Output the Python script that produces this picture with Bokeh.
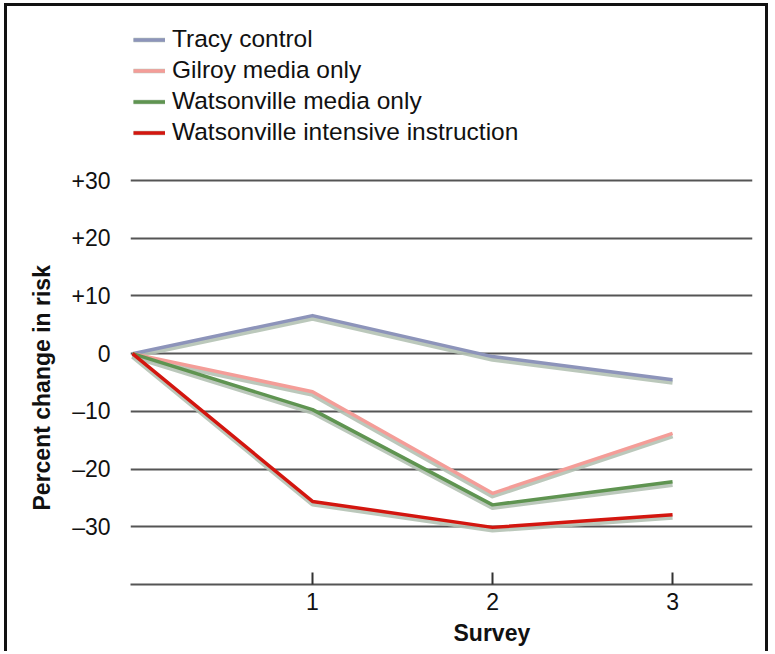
from bokeh.plotting import figure
from bokeh.models import (Range1d, FixedTicker, Legend, LegendItem, Title,
                          ColumnDataSource)
from bokeh.transform import dodge
from bokeh.embed import file_html
from bokeh.resources import INLINE

# ---- data ----
surveys = [0, 1, 2, 3]
tracy_control = [0, 6.6, -0.5, -4.5]
gilroy_media = [0, -6.6, -24.2, -13.8]
watsonville_media = [0, -9.7, -26.2, -22.2]
watsonville_intensive = [0, -25.6, -30.1, -27.9]

series_names = ["Tracy control", "Gilroy media only",
                "Watsonville media only", "Watsonville intensive instruction"]
series_values = [tracy_control, gilroy_media, watsonville_media, watsonville_intensive]
series_colors = ["#8d94ba", "#f49d98", "#5f9451", "#d3160f"]

y_ticks = [-30, -20, -10, 0, 10, 20, 30]
y_tick_labels = ["\u201330", "\u201320", "\u201310", "0", "+10", "+20", "+30"]
x_ticks = [1, 2, 3]

FONT = "Liberation Sans"

p = figure(width=764, height=648,
           x_range=Range1d(-0.011, 3.444), y_range=Range1d(-40, 57.4),
           output_backend="svg", toolbar_location=None,
           min_border_left=123, min_border_right=19,
           min_border_top=16, min_border_bottom=70)
p.styles = {"border-left": "3px solid #111", "border-top": "3px solid #111",
            "border-right": "3px solid #111", "margin-left": "4px",
            "margin-top": "3px"}
p.outline_line_color = None
p.background_fill_color = "white"
p.border_fill_color = "white"

# grid
p.xgrid.visible = False
p.ygrid.ticker = FixedTicker(ticks=y_ticks)
p.ygrid.grid_line_color = "#555555"
p.ygrid.grid_line_width = 2

# y axis
p.yaxis.ticker = FixedTicker(ticks=y_ticks)
p.yaxis.major_label_overrides = {t: l for t, l in zip(y_ticks, y_tick_labels)}
p.yaxis.axis_line_color = None
p.yaxis.major_tick_line_color = None
p.yaxis.minor_tick_line_color = None
p.yaxis.major_label_standoff = 14
p.yaxis.major_label_text_font = FONT
p.yaxis.major_label_text_font_size = "23px"
p.yaxis.major_label_text_color = "#111"

# y axis title, centred on the gridded part of the plot
p.add_layout(Title(text="Percent change in risk", align="left", offset=74,
                   text_font=FONT, text_font_style="bold",
                   text_font_size="23px", text_color="#111",
                   standoff=28), "left")

# x axis
p.xaxis.ticker = FixedTicker(ticks=x_ticks)
p.xaxis.axis_line_color = "#555555"
p.xaxis.axis_line_width = 2
p.xaxis.major_tick_in = 12
p.xaxis.major_tick_out = 0
p.xaxis.major_tick_line_color = "#333"
p.xaxis.major_tick_line_width = 2
p.xaxis.minor_tick_line_color = None
p.xaxis.major_label_standoff = 8
p.xaxis.major_label_text_font = FONT
p.xaxis.major_label_text_font_size = "23px"
p.xaxis.major_label_text_color = "#111"

p.add_layout(Title(text="Survey", align="left", offset=323,
                   text_font=FONT, text_font_style="bold",
                   text_font_size="23px", text_color="#111",
                   standoff=11), "below")

items = []
for name, vals, col in zip(series_names, series_values, series_colors):
    src = ColumnDataSource(dict(x=surveys, y=vals))
    sh = p.line(x="x", y=dodge("y", -0.5, range=p.y_range), source=src,
                line_color="#b4c2b4", line_width=4.5, line_alpha=0.9,
                line_join="round")
    ln = p.line(x="x", y="y", source=src, line_color=col, line_width=3.5,
                line_join="round")
    items.append(LegendItem(label=name, renderers=[sh, ln]))

legend = Legend(items=items, location="top_left")
legend.border_line_color = None
legend.background_fill_alpha = 0
legend.padding = 0
legend.margin = 3
legend.glyph_width = 32
legend.glyph_height = 25
legend.label_height = 25
legend.spacing = 3
legend.label_standoff = 7
legend.label_text_font = FONT
legend.label_text_font_size = "24.5px"
legend.label_text_color = "#111"
p.add_layout(legend)

open("out.html", "w").write(file_html(p, INLINE))
